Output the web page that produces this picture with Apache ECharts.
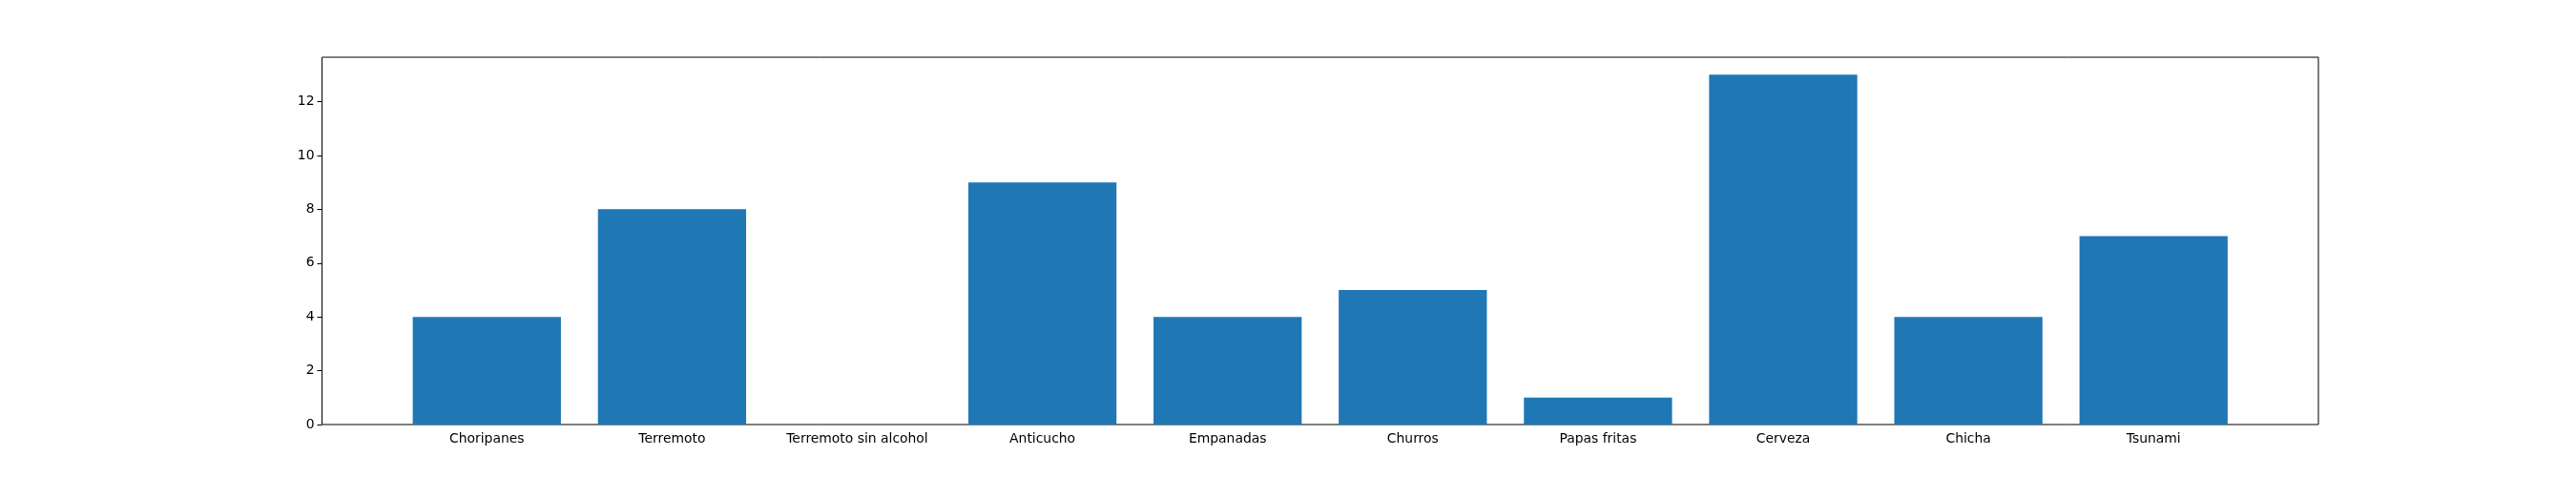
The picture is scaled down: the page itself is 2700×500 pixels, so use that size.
<!DOCTYPE html>
<html><head><meta charset="utf-8">
<script src="https://cdn.jsdelivr.net/npm/echarts@6/dist/echarts.min.js"></script>
<style>html,body{margin:0;background:#fff}#c{width:2700px;height:500px}</style>
</head><body><div id="c"></div>
<script>
const categories = ["Choripanes","Terremoto","Terremoto sin alcohol","Anticucho","Empanadas","Churros","Papas fritas","Cerveza","Chicha","Tsunami"];
const values = [4,8,0,9,4,5,1,13,4,7];
const yTicks = [0,2,4,6,8,10,12];
const ch = echarts.init(document.getElementById('c'));
const L = 337.5, R = 2430, T = 60, B = 445;
const cw = (R - L) / 10.78, pad = 0.39 * cw;
const font = {fontFamily:'DejaVu Sans', fontSize:13.9, color:'#000'};
ch.setOption({
  animation:false,
  grid:[
    {left:L, top:T, width:R-L, height:B-T, show:true, borderColor:'#000', borderWidth:1, backgroundColor:'transparent'},
    {left:L+pad, top:T, width:R-L-2*pad, height:B-T}
  ],
  xAxis:[
    {gridIndex:0, type:'value', show:false, min:0, max:1},
    {gridIndex:1, type:'category', data:categories, axisLine:{show:false},
     axisTick:{alignWithLabel:true, length:5, lineStyle:{color:'#000'}},
     axisLabel:Object.assign({margin:8, interval:0}, font)}
  ],
  yAxis:[
    {gridIndex:0, type:'value', show:false, min:0, max:1},
    {gridIndex:1, type:'value', min:0, max:13.65, interval:2, offset:pad,
     axisLine:{show:false}, splitLine:{show:false},
     axisTick:{show:true, length:5, lineStyle:{color:'#000'}},
     axisLabel:Object.assign({margin:8, showMaxLabel:false, formatter:v=>yTicks.includes(v)?String(v):''}, font)}
  ],
  series:[{type:'bar', xAxisIndex:1, yAxisIndex:1, data:values, barWidth:'80%', itemStyle:{color:'#1f77b4'}}]
});
</script></body></html>
